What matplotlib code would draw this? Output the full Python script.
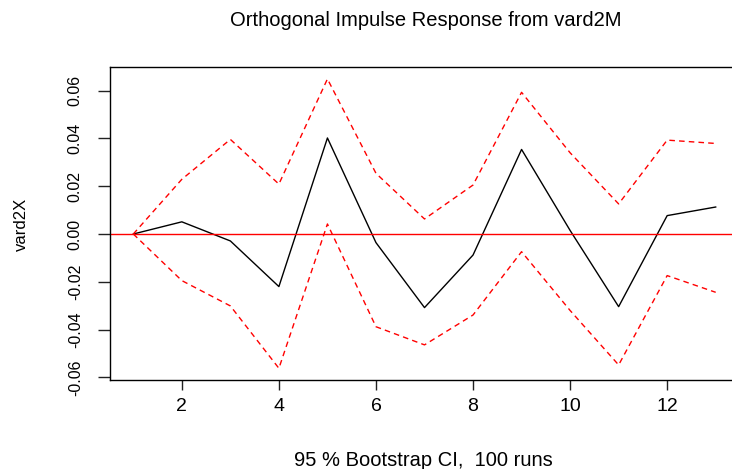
import matplotlib
matplotlib.use("Agg")
import matplotlib.pyplot as plt

plt.rcParams['font.family'] = ['Liberation Sans', 'DejaVu Sans']

horizon = [1, 2, 3, 4, 5, 6, 7, 8, 9, 10, 11, 12, 13]
irf = [0.0, 0.0051, -0.0029, -0.0220, 0.0402, -0.0036, -0.0308, -0.0088, 0.0354, 0.0015, -0.0304, 0.0077, 0.0113]
upper = [0.0, 0.0229, 0.0396, 0.0209, 0.0649, 0.0254, 0.0063, 0.0205, 0.0593, 0.0340, 0.0126, 0.0393, 0.0379]
lower = [0.0, -0.0195, -0.0301, -0.0562, 0.0042, -0.0388, -0.0464, -0.0339, -0.0074, -0.0320, -0.0548, -0.0174, -0.0244]
xticks = [2, 4, 6, 8, 10, 12]
yticks = [-0.06, -0.04, -0.02, 0.00, 0.02, 0.04, 0.06]
ytick_labels = ["-0.06", "-0.04", "-0.02", "0.00", "0.02", "0.04", "0.06"]

W, H = 732, 469
fig = plt.figure(figsize=(W/100, H/100), dpi=100)
left, right, top, bottom = 110, 739, 67, 380
ax = fig.add_axes([left/W, 1-bottom/H, (right-left)/W, (bottom-top)/H])

ax.plot(horizon, irf, color='black', lw=1.0)
ax.plot(horizon, upper, color='red', lw=1.0, ls=(0, (4, 3)))
ax.plot(horizon, lower, color='red', lw=1.0, ls=(0, (4, 3)))
ax.axhline(0, color='red', lw=1.0)

ax.set_xlim(0.52, 13.48)
ax.set_ylim(-0.0611, 0.0699)
ax.set_xticks(xticks)
ax.set_yticks(yticks)
ax.set_yticklabels(ytick_labels, rotation=90, va='center')
ax.tick_params(axis='x', labelsize=14, length=7.2, width=1, color='#222222', pad=5.5)
ax.tick_params(axis='y', labelsize=11.5, length=8.6, width=1, color='#222222', pad=11)
for s in ax.spines.values():
    s.set_linewidth(1)
    s.set_color('black')

fig.text(426/W, 1-20/H, "Orthogonal Impulse Response from vard2M", ha='center', va='center', fontsize=14.5)
fig.text(423/W, 1-460/H, "95 % Bootstrap CI,  100 runs", ha='center', va='center', fontsize=14.5)
fig.text(21/W, 1-224/H, "vard2X", ha='center', va='center', rotation=90, fontsize=12)

fig.savefig("out.png", dpi=100)
